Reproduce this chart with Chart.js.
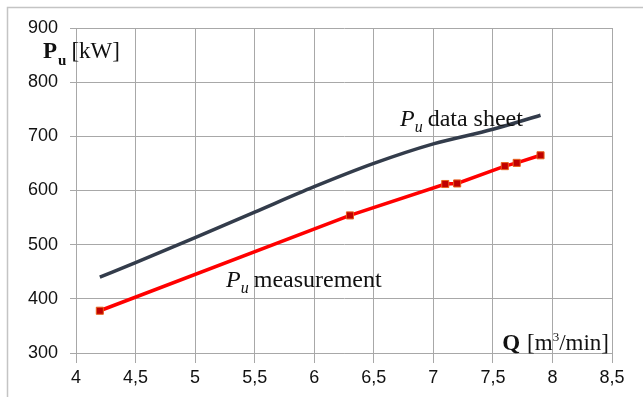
<!DOCTYPE html>
<html>
<head>
<meta charset="utf-8">
<script src="https://cdn.jsdelivr.net/npm/chart.js@4"></script>
<style>
  html, body { margin: 0; padding: 0; background: #fff; }
  #wrap { width: 643px; height: 397px; position: relative; }
</style>
</head>
<body>
<div id="wrap"><canvas id="chart" width="643" height="397"></canvas></div>
<script>
// flow rate Q [m3/min]
const sheetQ = [4.2, 4.5, 5, 5.5, 6, 6.5, 7, 7.5, 7.9];
const sheetP = [440, 467, 513, 560, 607, 650, 686, 713, 739];

const measQ = [4.2, 6.3, 7.1, 7.2, 7.6, 7.7, 7.9];
const measP = [378, 554, 612, 613, 645, 651, 665];

const xTicks = [4, 4.5, 5, 5.5, 6, 6.5, 7, 7.5, 8, 8.5];
const yTicks = [300, 400, 500, 600, 700, 800, 900];

function toPoints(xs, ys) {
    return xs.map(function(x, i) { return {x: x, y: ys[i]}; });
}

const gridColor = '#a8a8a8';
const serif = '"Liberation Serif", "DejaVu Serif", serif';

// draws the frame and the text labels written on the plot
const textPlugin = {
    id: 'texts',
    beforeDraw: function(chart) {
        const ctx = chart.ctx;
        ctx.save();
        ctx.strokeStyle = '#c4c4c4';
        ctx.lineWidth = 1.5;
        ctx.beginPath();
        ctx.moveTo(7.5, 400);
        ctx.lineTo(7.5, 7.5);
        ctx.lineTo(650, 7.5);
        ctx.stroke();
        ctx.restore();
    },
    afterDraw: function(chart) {
        const ctx = chart.ctx;
        const xs = chart.scales.x, ys = chart.scales.y;
        const area = chart.chartArea;
        ctx.save();
        ctx.fillStyle = '#111';
        ctx.textBaseline = 'alphabetic';
        ctx.textAlign = 'left';

        // y axis title
        let x = 43, y = 58;
        ctx.font = 'bold 23px ' + serif;
        ctx.fillText('P', x, y);
        x += ctx.measureText('P').width + 1;
        ctx.font = 'bold 15px ' + serif;
        ctx.fillText('u', x, y + 7);
        x += ctx.measureText('u').width + 5;
        ctx.font = '23px ' + serif;
        ctx.fillText('[kW]', x, y);

        // x axis title, right aligned to plot
        const unitA = '[m', unitB = '/min]';
        ctx.font = '13px ' + serif;
        const supW = ctx.measureText('3').width;
        ctx.font = '23px ' + serif;
        const total = ctx.measureText(unitA).width + supW + ctx.measureText(unitB).width;
        let ux = area.right - 3 - total;
        const uy = area.bottom - 3;
        ctx.fillText(unitA, ux, uy);
        ux += ctx.measureText(unitA).width;
        ctx.font = '13px ' + serif;
        ctx.fillText('3', ux, uy - 9);
        ux += supW;
        ctx.font = '23px ' + serif;
        ctx.fillText(unitB, ux, uy);
        ctx.font = 'bold 23px ' + serif;
        const qw = ctx.measureText('Q').width;
        ctx.fillText('Q', area.right - 3 - total - 7 - qw, uy);

        // series labels
        function seriesLabel(q, p, text) {
            let lx = xs.getPixelForValue(q), ly = ys.getPixelForValue(p);
            ctx.font = 'italic 24px ' + serif;
            ctx.fillText('P', lx, ly);
            lx += ctx.measureText('P').width;
            ctx.font = 'italic 16px ' + serif;
            ctx.fillText('u', lx, ly + 6);
            lx += ctx.measureText('u').width + 5;
            ctx.font = '24px ' + serif;
            ctx.fillText(text, lx, ly);
        }
        seriesLabel(6.72, 719, 'data sheet');
        seriesLabel(5.26, 422, 'measurement');
        ctx.restore();
    }
};

const ctx = document.getElementById('chart');
new Chart(ctx, {
    type: 'scatter',
    data: {
        datasets: [
            {
                label: 'Pu data sheet',
                data: toPoints(sheetQ, sheetP),
                showLine: true,
                borderColor: '#333c4b',
                borderWidth: 3.5,
                pointRadius: 0,
                cubicInterpolationMode: 'monotone'
            },
            {
                label: 'Pu measurement',
                data: toPoints(measQ, measP),
                showLine: true,
                borderColor: '#ff0000',
                borderWidth: 3.5,
                pointStyle: 'rect',
                pointRadius: 5,
                pointBackgroundColor: '#c00000',
                pointBorderColor: '#e8601c',
                pointBorderWidth: 1
            }
        ]
    },
    options: {
        responsive: false,
        animation: false,
        layout: { padding: { top: 28, right: 31, left: 0, bottom: 0 } },
        plugins: {
            legend: { display: false },
            tooltip: { enabled: false }
        },
        scales: {
            x: {
                type: 'linear',
                min: 4,
                max: 8.5,
                afterBuildTicks: function(scale) {
                    scale.ticks = xTicks.map(function(v) { return {value: v}; });
                },
                afterFit: function(scale) { scale.height = 44; },
                grid: { color: gridColor, lineWidth: 1, tickLength: 10, tickColor: gridColor },
                border: { color: gridColor, width: 1 },
                ticks: {
                    color: '#111',
                    padding: 4,
                    font: { family: '"Liberation Sans", Arial, sans-serif', size: 18 },
                    callback: function(v) { return String(v).replace('.', ','); }
                }
            },
            y: {
                type: 'linear',
                min: 300,
                max: 900,
                afterBuildTicks: function(scale) {
                    scale.ticks = yTicks.map(function(v) { return {value: v}; });
                },
                afterFit: function(scale) { scale.width = 76; },
                grid: { color: gridColor, lineWidth: 1, tickLength: 6, tickColor: gridColor },
                border: { color: gridColor, width: 1 },
                ticks: {
                    color: '#111',
                    padding: 12,
                    font: { family: '"Liberation Sans", Arial, sans-serif', size: 18 }
                }
            }
        }
    },
    plugins: [textPlugin]
});
</script>
</body>
</html>
